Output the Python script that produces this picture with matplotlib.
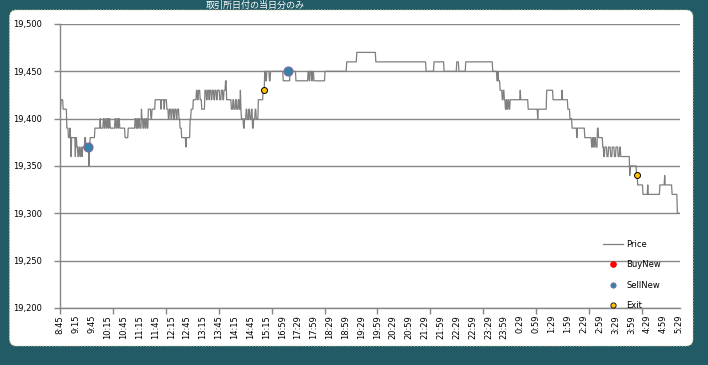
import numpy as np
import matplotlib
matplotlib.use("Agg")
import matplotlib.pyplot as plt
from matplotlib.patches import FancyBboxPatch
from matplotlib.lines import Line2D
from matplotlib.ticker import FixedLocator, MultipleLocator, FuncFormatter

# 1分足 (8:45-15:15 / 16:30-5:30)  値が変わった足の位置と価格
n_bars = 1172
chg_idx = [0, 2, 6, 13, 16, 19, 20, 21, 22, 29, 30, 32, 34, 36, 38, 40, 42, 43, 47, 49,
           55, 56, 57, 66, 76, 77, 82, 84, 86, 88, 90, 92, 93, 95,
           104, 106, 108, 110, 111, 113, 123, 129, 142, 144, 146, 147, 149, 151, 154, 155,
           157, 159, 161, 163, 165, 167, 172, 174, 180, 191, 192, 197, 198, 202, 205, 207,
           210, 212, 215, 217, 220, 222, 225, 227, 230, 238, 239, 246, 248, 252, 258, 260,
           262, 265, 268, 274, 277, 279, 282, 283, 286, 288, 291, 293, 296, 298, 302, 305,
           308, 310, 313, 315, 324, 327, 329, 332, 334, 337, 339, 341, 342, 343, 347, 349,
           352, 354, 357, 359, 362, 364, 366, 369, 371, 375, 384, 387, 389, 391, 396, 398,
           422, 435, 446, 469, 471, 473, 476, 478, 480, 501, 542, 561, 597, 692, 707, 726,
           750, 754, 767, 818, 826, 828, 829, 832, 836, 838, 840, 842, 844, 845, 847, 849,
           851, 870, 871, 885, 903, 904, 920, 932, 949, 950, 960, 964, 968, 977, 978, 992,
           1005, 1007, 1009, 1011, 1013, 1016, 1018, 1026, 1028, 1030, 1034, 1037, 1041, 1044,
           1048, 1051, 1055, 1058, 1060, 1077, 1078, 1090, 1092, 1102, 1111, 1112, 1134, 1143,
           1144, 1157, 1167]
chg_price = [19410, 19420, 19410, 19390, 19380, 19390, 19380, 19360, 19380, 19360, 19380, 19370,
             19360, 19370, 19360, 19370, 19360, 19370, 19380, 19370,
             19350, 19370, 19380, 19390, 19400, 19390, 19400, 19390, 19400, 19390, 19400, 19390,
             19400, 19390,
             19400, 19390, 19400, 19390, 19400, 19390, 19380, 19390, 19400, 19390, 19400, 19390,
             19400, 19390, 19410, 19400,
             19390, 19400, 19390, 19400, 19390, 19410, 19400, 19410, 19420, 19410, 19420, 19410,
             19420, 19410, 19400, 19410,
             19400, 19410, 19400, 19410, 19400, 19410, 19400, 19390, 19380, 19370, 19380, 19400,
             19410, 19420, 19430, 19420,
             19430, 19420, 19410, 19430, 19420, 19430, 19420, 19430, 19420, 19430, 19420, 19430,
             19420, 19430, 19420, 19430,
             19420, 19430, 19440, 19420, 19410, 19420, 19410, 19420, 19410, 19420, 19410, 19430,
             19410, 19400, 19390, 19400,
             19410, 19400, 19410, 19400, 19410, 19390, 19400, 19410, 19400, 19420, 19430, 19450,
             19440, 19450, 19440, 19450,
             19440, 19450, 19440, 19450, 19440, 19450, 19440, 19450, 19440, 19450, 19460, 19470,
             19460, 19450, 19460, 19450,
             19460, 19450, 19460, 19450, 19440, 19450, 19440, 19430, 19420, 19430, 19420, 19410,
             19420, 19410, 19420, 19410,
             19420, 19430, 19420, 19410, 19400, 19410, 19430, 19420, 19430, 19420, 19410, 19400,
             19390, 19380, 19390, 19380,
             19370, 19380, 19370, 19380, 19370, 19390, 19380, 19370, 19360, 19370, 19360, 19370,
             19360, 19370,
             19360, 19370, 19360, 19370, 19360, 19340, 19350, 19340, 19330, 19320, 19330, 19320,
             19330, 19340,
             19330, 19320, 19300]

xlabels = ["8:45", "9:15", "9:45", "10:15", "10:45", "11:15", "11:45", "12:15", "12:45", "13:15",
           "13:45", "14:15", "14:45", "15:15", "16:59", "17:29", "17:59", "18:29", "18:59", "19:29",
           "19:59", "20:29", "20:59", "21:29", "21:59", "22:29", "22:59", "23:29", "23:59", "0:29",
           "0:59", "1:29", "1:59", "2:29", "2:59", "3:29", "3:59", "4:29", "4:59", "5:29"]
label_step = 30

buy_idx, buy_price = [], []
sell_idx, sell_price = [53, 431], [19370, 19450]
exit_idx, exit_price = [385, 1091], [19430, 19340]

price = np.empty(n_bars)
ends = chg_idx[1:] + [n_bars]
for s, e, p in zip(chg_idx, ends, chg_price):
    price[s:e] = p

W, H = 708, 365
fig = plt.figure(figsize=(W / 100, H / 100), dpi=100)
fig.patch.set_facecolor("#225b66")

# 白いパネル
panel = FancyBboxPatch((9.5 / 100, (H - 346) / 100), (693 - 9.5) / 100, (346 - 10) / 100,
                       boxstyle="round,pad=0,rounding_size=0.07",
                       transform=fig.dpi_scale_trans, facecolor="white",
                       edgecolor="#d8d2a8", lw=0.8, ls=":", zorder=-10)
fig.patches.append(panel)

fig.text(255 / W, 1 - 0.3 / H, "取引所日付の当日分のみ", color="white", fontsize=6.5,
         ha="center", va="top", family=["Noto Sans CJK JP", "DejaVu Sans"])

ax = fig.add_axes([60 / W, 1 - 308 / H, (679.5 - 60) / W, (308 - 24) / H])
ax.set_facecolor("none")

gray = "#868686"
x = np.arange(n_bars)
ax.plot(x, price, color="#7f7f7f", lw=0.9, zorder=3)
ax.plot(buy_idx, buy_price, ls="none", marker="o", ms=6, color="red", zorder=4)
ax.plot(sell_idx, sell_price, ls="none", marker="o", ms=6.5, mfc="#3384a6", mec="#8064a2",
        mew=0.8, zorder=4)
ax.plot(exit_idx, exit_price, ls="none", marker="o", ms=4.3, mfc="#ffc000", mec="black",
        mew=0.7, zorder=4)

ax.set_xlim(0, n_bars - 1)
ax.set_ylim(19200, 19500)
ax.yaxis.set_major_locator(MultipleLocator(50))
ax.yaxis.set_major_formatter(FuncFormatter(lambda v, _: f"{int(v):,}"))
ax.yaxis.grid(True, color=gray, lw=1.0)
ax.set_axisbelow(True)

# ラベルは30本ごと、目盛り線は100本ごと
ax.xaxis.set_major_locator(FixedLocator(np.arange(len(xlabels)) * label_step))
ax.set_xticklabels(xlabels, rotation=90, fontsize=6)
ax.xaxis.set_minor_locator(MultipleLocator(100))
ax.xaxis.remove_overlapping_locs = False
ax.tick_params(axis="x", which="minor", length=4, color=gray, width=1)
ax.tick_params(axis="x", which="major", length=0, pad=5)
ax.tick_params(axis="y", length=4, color=gray, width=1, labelsize=6, pad=9)
for t in ax.get_xticklabels():
    t.set_va("top")

for side in ["top", "right"]:
    ax.spines[side].set_visible(False)
for side in ["left", "bottom"]:
    ax.spines[side].set_color(gray)
    ax.spines[side].set_linewidth(1)

handles = [Line2D([], [], color="#7f7f7f", lw=0.9),
           Line2D([], [], ls="none", marker="o", ms=3.8, mfc="red", mec="red"),
           Line2D([], [], ls="none", marker="o", ms=3.8, mfc="#3384a6", mec="#8064a2", mew=0.6),
           Line2D([], [], ls="none", marker="o", ms=3.8, mfc="#ffc000", mec="black", mew=0.6)]
ax.legend(handles, ["Price", "BuyNew", "SellNew", "Exit"], loc="upper left",
          bbox_to_anchor=(603 / W, 1 - 240 / H), bbox_transform=fig.transFigure,
          frameon=False, fontsize=6, handlelength=2.4, handletextpad=0.4,
          labelspacing=1.35, borderpad=0, borderaxespad=0)

fig.savefig("out.png", dpi=100, facecolor=fig.get_facecolor())
